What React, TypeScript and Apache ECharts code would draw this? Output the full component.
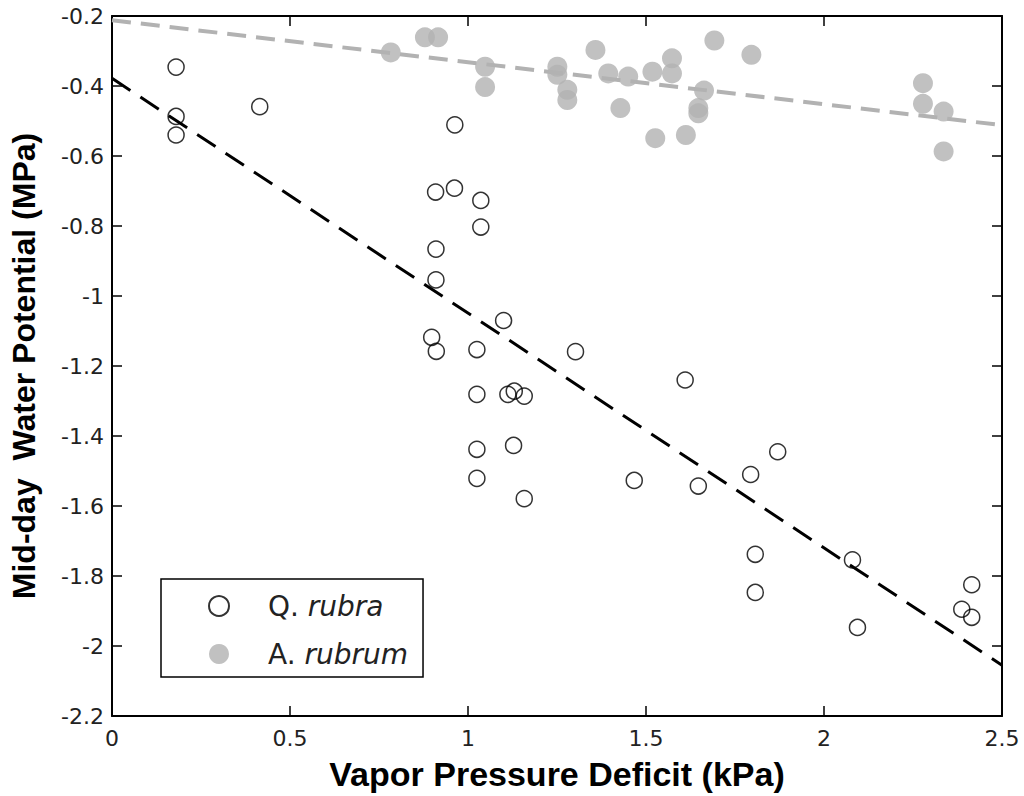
import React, { useEffect, useRef } from "react";
import * as echarts from "echarts";

// Q. rubra: [VPD (kPa), mid-day water potential (MPa)]
const qRubraVpd = [
  0.18, 0.18, 0.18, 0.415, 0.963, 0.909, 0.962, 1.036, 1.036, 0.91, 0.91, 1.1,
  0.898, 0.911, 1.025, 1.025, 1.112, 1.13, 1.158, 1.025, 1.128, 1.025, 1.158,
  1.302, 1.61, 1.467, 1.647, 1.794, 1.87, 1.807, 1.807, 2.08, 2.094, 2.415,
  2.387, 2.415,
];
const qRubraPsi = [
  -0.346, -0.487, -0.54, -0.459, -0.511, -0.703, -0.692, -0.727, -0.803, -0.866,
  -0.954, -1.07, -1.118, -1.158, -1.153, -1.281, -1.281, -1.272, -1.286, -1.438,
  -1.427, -1.521, -1.579, -1.159, -1.24, -1.527, -1.543, -1.51, -1.445, -1.738,
  -1.847, -1.754, -1.947, -1.825, -1.895, -1.918,
];

// A. rubrum
const aRubrumVpd = [
  0.783, 0.879, 0.916, 1.048, 1.048, 1.251, 1.251, 1.279, 1.279, 1.358, 1.394,
  1.45, 1.428, 1.518, 1.573, 1.573, 1.526, 1.612, 1.663, 1.647, 1.647, 1.692,
  1.796, 2.278, 2.278, 2.336, 2.336,
];
const aRubrumPsi = [
  -0.304, -0.261, -0.261, -0.345, -0.403, -0.345, -0.368, -0.411, -0.44, -0.297,
  -0.364, -0.373, -0.463, -0.359, -0.321, -0.364, -0.549, -0.54, -0.413, -0.463,
  -0.478, -0.27, -0.311, -0.392, -0.451, -0.473, -0.587,
];

// Regression lines (endpoints)
const fitX = [0, 2.5];
const qRubraFitY = [-0.378, -2.055];
const aRubrumFitY = [-0.212, -0.512];

const xTicks = { min: 0, max: 2.5, interval: 0.5 };
const yTicks = { min: -2.2, max: -0.2, interval: 0.2 };

const seriesNames = ["Q. rubra", "A. rubrum"];

const GRAY = "#b2b2b2";
const TITLE_FONT = "Liberation Sans, Arial, sans-serif";
const LABEL_FONT = "DejaVu Sans, sans-serif";

export default function App() {
  const ref = useRef<HTMLDivElement>(null);

  useEffect(() => {
    if (!ref.current) return;
    const chart = echarts.init(ref.current, undefined, { renderer: "svg" });

    const zip = (xs: number[], ys: number[]) => xs.map((x, i) => [x, ys[i]]);
    const fmtY = (v: number) => String(+v.toFixed(1));

    const baseX = {
      type: "value" as const,
      min: xTicks.min,
      max: xTicks.max,
      interval: xTicks.interval,
      splitLine: { show: false },
      axisLine: { show: true, onZero: false, lineStyle: { color: "#000", width: 2 } },
      axisTick: { show: true, inside: true, length: 10, lineStyle: { color: "#000", width: 1.5 } },
    };
    const baseY = {
      type: "value" as const,
      min: yTicks.min,
      max: yTicks.max,
      interval: yTicks.interval,
      splitLine: { show: false },
      axisLine: { show: true, onZero: false, lineStyle: { color: "#000", width: 2 } },
      axisTick: { show: true, inside: true, length: 10, lineStyle: { color: "#000", width: 1.5 } },
    };

    chart.setOption({
      animation: false,
      backgroundColor: "#fff",
      textStyle: { fontFamily: LABEL_FONT },
      grid: { left: 107, right: 22, top: 16, bottom: 80, containLabel: false },
      xAxis: [
        {
          ...baseX,
          position: "bottom",
          name: "Vapor Pressure Deficit (kPa)",
          nameLocation: "middle",
          nameGap: 41,
          nameTextStyle: { fontFamily: TITLE_FONT, fontSize: 34, fontWeight: "bold", color: "#000" },
          axisLabel: { fontFamily: LABEL_FONT, fontSize: 22, color: "#222", margin: 11 },
        },
        {
          ...baseX,
          position: "top",
          axisLabel: { show: false },
        },
      ],
      yAxis: [
        {
          ...baseY,
          position: "left",
          name: "Mid-day  Water Potential (MPa)",
          nameLocation: "middle",
          nameGap: 72,
          nameTextStyle: { fontFamily: TITLE_FONT, fontSize: 32, fontWeight: "bold", color: "#000" },
          axisLabel: { fontFamily: LABEL_FONT, fontSize: 22, color: "#222", margin: 8, formatter: fmtY },
        },
        {
          ...baseY,
          position: "right",
          axisLabel: { show: false },
        },
      ],
      legend: {
        orient: "vertical",
        left: 161,
        top: 579,
        data: seriesNames,
        backgroundColor: "#fff",
        borderColor: "#000",
        borderWidth: 1.5,
        borderRadius: 0,
        padding: [13, 15, 9, 47],
        itemGap: 20,
        itemWidth: 88,
        itemHeight: 20,
        formatter: (name: string) => {
          const [a, b] = name.split(" ");
          return `{n|${a}} {i|${b}}`;
        },
        textStyle: {
          fontFamily: LABEL_FONT,
          fontSize: 28,
          color: "#222",
          rich: {
            n: { fontFamily: LABEL_FONT, fontSize: 28, color: "#222" },
            i: { fontFamily: LABEL_FONT, fontSize: 28, fontStyle: "italic", color: "#222" },
          },
        },
      },
      series: [
        {
          name: "Q. rubra fit",
          type: "line",
          data: zip(fitX, qRubraFitY),
          symbol: "none",
          lineStyle: { color: "#000", width: 3, type: [22, 12] },
          z: 3,
          silent: true,
        },
        {
          name: "A. rubrum fit",
          type: "line",
          data: zip(fitX, aRubrumFitY),
          symbol: "none",
          lineStyle: { color: GRAY, width: 4, type: [19, 10] },
          z: 1,
          silent: true,
        },
        {
          name: seriesNames[0],
          type: "scatter",
          data: zip(qRubraVpd, qRubraPsi),
          symbol: "circle",
          symbolSize: 16,
          itemStyle: { color: "rgba(255,255,255,0)", borderColor: "#000", borderWidth: 1.5 },
          z: 2,
        },
        {
          name: seriesNames[1],
          type: "scatter",
          data: zip(aRubrumVpd, aRubrumPsi),
          symbol: "circle",
          symbolSize: 20,
          itemStyle: { color: GRAY },
          z: 2,
        },
      ],
    });

    return () => chart.dispose();
  }, []);

  return (
    <div
      ref={ref}
      style={{ position: "fixed", left: 0, top: 0, width: 1024, height: 796 }}
    />
  );
}
